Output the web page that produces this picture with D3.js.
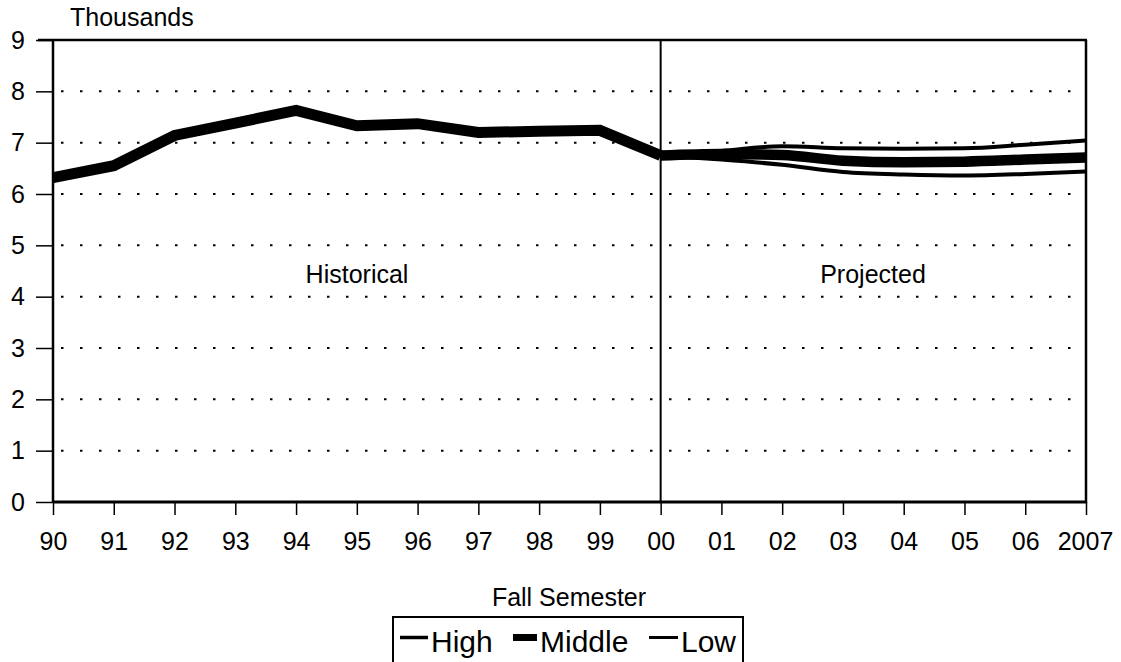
<!DOCTYPE html>
<html><head><meta charset="utf-8">
<script src="https://cdn.jsdelivr.net/npm/d3@7"></script>
<style>body{margin:0;background:#fff}svg{display:block;font-family:"Liberation Sans",Arial,sans-serif}</style>
</head><body><svg id="c" width="1121" height="662"></svg>
<script>
const years = ["90","91","92","93","94","95","96","97","98","99","00","01","02","03","04","05","06","2007"];
const historical = [6.32,6.55,7.14,7.38,7.63,7.33,7.37,7.20,7.22,7.24,6.75];
const projYears = ["00","01","02","03","04","05","06","2007"];
const high = [6.75,6.84,6.93,6.89,6.88,6.89,6.96,7.04];
const middle = [6.75,6.78,6.76,6.65,6.62,6.63,6.67,6.71];
const low = [6.75,6.67,6.57,6.43,6.38,6.36,6.39,6.44];
const yTicks = [0,1,2,3,4,5,6,7,8,9];
const legendItems = ["High","Middle","Low"];

const svg = d3.select("#c");
const L=53,R=1086,T=40,B=502;
const x = d3.scalePoint().domain(years).range([L,R]);
const y = d3.scaleLinear().domain([0,9]).range([B,T]);

// gridlines
svg.append("g").selectAll("line").data(yTicks.filter(d=>d>0&&d<9)).join("line")
  .attr("x1",L+8).attr("x2",R).attr("y1",d=>y(d)).attr("y2",d=>y(d))
  .attr("stroke","#000").attr("stroke-width",2).attr("stroke-dasharray","2.5,16.5");

// y axis
const ya = svg.append("g").attr("transform",`translate(${L},0)`)
  .call(d3.axisLeft(y).tickValues(yTicks).tickSize(17).tickPadding(10).tickFormat(d3.format("d")));
ya.select(".domain").remove();
ya.selectAll("line").attr("stroke-width",1.5);
ya.selectAll("text").attr("font-size",25).attr("fill","#000").attr("dx",-1);

// x axis
const xa = svg.append("g").attr("transform",`translate(0,${B})`)
  .call(d3.axisBottom(x).tickSize(13).tickPadding(17));
xa.select(".domain").remove();
xa.selectAll("line").attr("stroke-width",1.5);
xa.selectAll("text").attr("font-size",25).attr("fill","#000");
xa.selectAll(".tick").filter(d=>d==="2007").select("text").attr("dx",-1);

// frame
svg.append("line").attr("x1",L).attr("x2",L).attr("y1",T).attr("y2",B).attr("stroke","#000").attr("stroke-width",2.5);
svg.append("line").attr("x1",L-15).attr("x2",R+1).attr("y1",T).attr("y2",T).attr("stroke","#000").attr("stroke-width",2.5);
svg.append("line").attr("x1",R).attr("x2",R).attr("y1",T).attr("y2",B+1).attr("stroke","#000").attr("stroke-width",2.5);
svg.append("line").attr("x1",L).attr("x2",R+1).attr("y1",B).attr("y2",B).attr("stroke","#000").attr("stroke-width",3);
svg.append("line").attr("x1",x("00")).attr("x2",x("00")).attr("y1",T).attr("y2",B).attr("stroke","#000").attr("stroke-width",2);

// lines
const line = d3.line().x(d=>x(d[0])).y(d=>y(d[1]));
const histData = historical.map((v,i)=>[years[i],v]);
const pz = arr => arr.map((v,i)=>[projYears[i],v]);
const lineCurve = d3.line().x(d=>x(d[0])).y(d=>y(d[1])).curve(d3.curveMonotoneX);
svg.append("path").attr("d",lineCurve(pz(high))).attr("fill","none").attr("stroke","#000").attr("stroke-width",4);
svg.append("path").attr("d",lineCurve(pz(low))).attr("fill","none").attr("stroke","#000").attr("stroke-width",4);
svg.append("path").attr("d",line(histData)).attr("fill","none").attr("stroke","#000").attr("stroke-width",11).attr("stroke-linejoin","miter");
svg.append("path").attr("d",lineCurve(pz(middle))).attr("fill","none").attr("stroke","#000").attr("stroke-width",10.5);

// labels
svg.append("text").attr("x",70).attr("y",26).attr("font-size",25).text("Thousands");
svg.append("text").attr("x",357).attr("y",283).attr("font-size",25).attr("text-anchor","middle").text("Historical");
svg.append("text").attr("x",873).attr("y",283).attr("font-size",25).attr("text-anchor","middle").text("Projected");
svg.append("text").attr("x",569).attr("y",606).attr("font-size",25).attr("text-anchor","middle").text("Fall Semester");

// legend
const lg = svg.append("g");
lg.append("path").attr("d","M393,665V617H743V665").attr("fill","none").attr("stroke","#000").attr("stroke-width",2);
const lx = [400,513,649], lw=[3.5,7,3], ll=[28,24,29];
legendItems.forEach((t,i)=>{
  lg.append("line").attr("x1",lx[i]).attr("x2",lx[i]+ll[i]).attr("y1",637.5).attr("y2",637.5).attr("stroke","#000").attr("stroke-width",lw[i]);
  lg.append("text").attr("x",lx[i]+ll[i]+3).attr("y",652).attr("font-size",30).text(t);
});
</script></body></html>
